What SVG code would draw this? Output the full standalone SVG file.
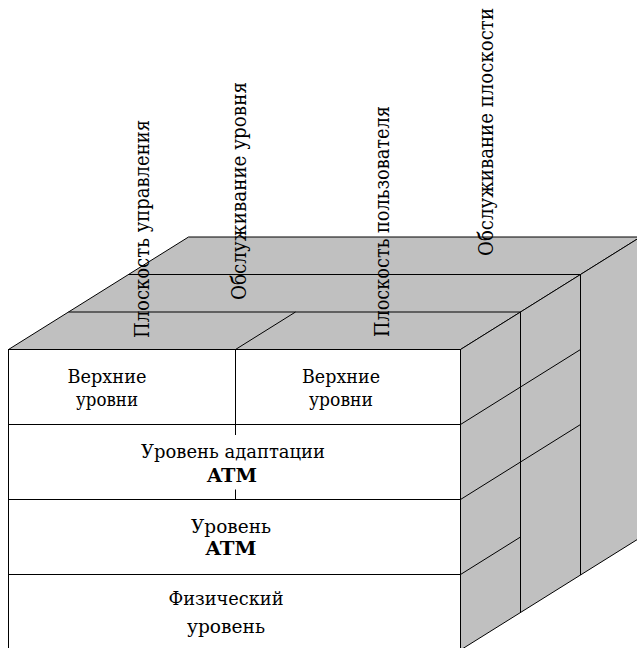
<svg xmlns="http://www.w3.org/2000/svg" width="637" height="648" viewBox="0 0 637 648">
  <style>
    .face-front { fill: #ffffff; stroke: #000000; stroke-width: 1; }
    .face-gray { fill: #c0c0c0; stroke: #000000; stroke-width: 1; stroke-linejoin: miter; }
    .edge { fill: none; stroke: #000000; stroke-width: 1; }
    .label { font-family: 'DejaVu Serif', 'Liberation Serif', serif; font-size: 19px; fill: #000000; text-anchor: middle; }
    .label-strong { font-weight: bold; }
    .plane { font-family: 'DejaVu Serif', 'Liberation Serif', serif; font-size: 21px; fill: #000000; }
  </style>
  <rect width="637" height="648" fill="#ffffff"/>

  <!-- cube faces -->
  <g id="top-face">
    <polygon class="face-gray" points="8.5,349.5 188.5,237 640.5,237 460.5,349.5"/>
  </g>
  <g id="side-face">
    <polygon class="face-gray" points="460.5,349.5 640.5,237 640.5,537.5 460.5,650"/>
  </g>

  <!-- front face: protocol layers -->
  <g id="layer-upper-control">
    <rect class="face-front" x="8.5" y="349.5" width="227" height="75"/>
    <text class="label" x="107" y="383" textLength="79" lengthAdjust="spacingAndGlyphs">Верхние</text>
    <text class="label" x="107" y="406" textLength="62" lengthAdjust="spacingAndGlyphs">уровни</text>
  </g>
  <g id="layer-upper-user">
    <rect class="face-front" x="235.5" y="349.5" width="225" height="75"/>
    <text class="label" x="341" y="383" textLength="78" lengthAdjust="spacingAndGlyphs">Верхние</text>
    <text class="label" x="341" y="406" textLength="64" lengthAdjust="spacingAndGlyphs">уровни</text>
  </g>
  <g id="layer-aal">
    <rect class="face-front" x="8.5" y="424.5" width="452" height="75"/>
    <text class="label" x="233" y="457.5" textLength="184" lengthAdjust="spacingAndGlyphs">Уровень адаптации</text>
    <text class="label label-strong" x="232" y="481.5" textLength="50" lengthAdjust="spacingAndGlyphs">ATM</text>
  </g>
  <g id="layer-atm">
    <rect class="face-front" x="8.5" y="499.5" width="452" height="75"/>
    <text class="label" x="231" y="533" textLength="80" lengthAdjust="spacingAndGlyphs">Уровень</text>
    <text class="label label-strong" x="231" y="555" textLength="51" lengthAdjust="spacingAndGlyphs">ATM</text>
  </g>
  <g id="layer-physical">
    <rect class="face-front" x="8.5" y="574.5" width="452" height="75.5"/>
    <text class="label" x="226" y="605" textLength="115" lengthAdjust="spacingAndGlyphs">Физический</text>
    <text class="label" x="226" y="633" textLength="78" lengthAdjust="spacingAndGlyphs">уровень</text>
  </g>

  <!-- plane and management boundaries drawn on top and side faces -->
  <g id="connectors">
    <line class="edge" x1="235.5" y1="424.5" x2="235.5" y2="435"/>
    <line class="edge" x1="235.5" y1="489.5" x2="235.5" y2="499.5"/>
    <line class="edge" x1="68.5" y1="312" x2="520.5" y2="312"/>
    <line class="edge" x1="128.5" y1="274.5" x2="580.5" y2="274.5"/>
    <line class="edge" x1="235.5" y1="349.5" x2="295.5" y2="312"/>
    <line class="edge" x1="520.5" y1="312" x2="520.5" y2="612.5"/>
    <line class="edge" x1="580.5" y1="274.5" x2="580.5" y2="575"/>
    <line class="edge" x1="460.5" y1="424.5" x2="580.5" y2="349.5"/>
    <line class="edge" x1="460.5" y1="499.5" x2="580.5" y2="424.5"/>
    <line class="edge" x1="460.5" y1="574.5" x2="520.5" y2="537"/>
  </g>

  <!-- plane labels above the cube -->
  <g id="label-control-plane">
    <text class="plane" transform="translate(149,338) rotate(-90)" textLength="218" lengthAdjust="spacingAndGlyphs">Плоскость управления</text>
  </g>
  <g id="label-layer-management">
    <text class="plane" transform="translate(246,300) rotate(-90)" textLength="218" lengthAdjust="spacingAndGlyphs">Обслуживание уровня</text>
  </g>
  <g id="label-user-plane">
    <text class="plane" transform="translate(389,337) rotate(-90)" textLength="231" lengthAdjust="spacingAndGlyphs">Плоскость пользователя</text>
  </g>
  <g id="label-plane-management">
    <text class="plane" transform="translate(493,256) rotate(-90)" textLength="248" lengthAdjust="spacingAndGlyphs">Обслуживание плоскости</text>
  </g>
</svg>
